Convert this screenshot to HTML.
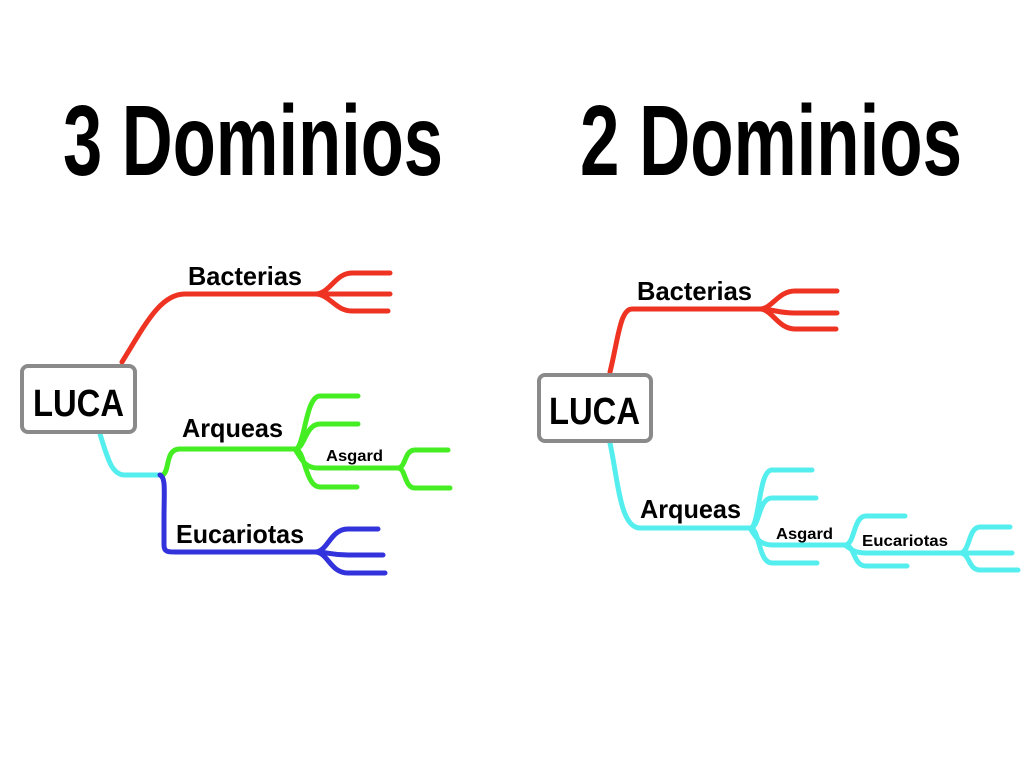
<!DOCTYPE html>
<html><head><meta charset="utf-8"><style>
html,body{margin:0;padding:0;background:#fff;width:1024px;height:768px;overflow:hidden}
svg{display:block}
text{font-family:"Liberation Sans",sans-serif;font-weight:bold;fill:#000}
</style></head><body>
<svg width="1024" height="768" viewBox="0 0 1024 768" xmlns="http://www.w3.org/2000/svg">
<rect width="1024" height="768" fill="#fff"/>
<text x="63" y="175" font-size="100" textLength="380" lengthAdjust="spacingAndGlyphs">3 Dominios</text>
<text x="580" y="175" font-size="100" textLength="382" lengthAdjust="spacingAndGlyphs">2 Dominios</text>

<g fill="none" stroke-width="5" stroke-linecap="round" stroke-linejoin="round">
<!-- LEFT -->
<path d="M122 362 C145 325 160 294 185 294 L315 294" stroke="#ee3322"/>
<path d="M315 294 C330 294 335 273 352 273 L390 273 M315 294 C330 294 335 294 352 294 L390 294 M315 294 C330 294 335 311 352 311 L388 311" stroke="#ee3322"/>
<path d="M100 434 C108 460 112 475 125 475 L162 475" stroke="#55eeee"/>
<path d="M163 475 C170 470 165 449 180 449 L295 449" stroke="#44ee22"/>
<path d="M295 449 C305 449 305 396 320 396 L358 396 M295 449 C305 449 305 424 320 424 L358 424 M295 449 C305 449 305 487 320 487 L357 487 M295 449 C302 460 305 468 318 468 L398 468" stroke="#44ee22"/>
<path d="M398 468 C406 468 404 450 415 450 L448 450 M398 468 C406 468 404 488 415 488 L450 488" stroke="#44ee22"/>
<path d="M160 475 C166 478 164 490 164 520 L164 545 C164 552 168 552 175 552 L315 552" stroke="#3333dd"/>
<path d="M315 552 C328 552 330 529 348 529 L378 529 M315 552 C328 552 330 555 348 555 L383 555 M315 552 C328 552 330 573 348 573 L385 573" stroke="#3333dd"/>
<!-- RIGHT -->
<path d="M610 372 C618 340 620 309 632 309 L760 309" stroke="#ee3322"/>
<path d="M760 309 C772 309 778 291 795 291 L837 291 M760 309 C772 309 778 313 795 313 L837 313 M760 309 C772 309 778 329 795 329 L836 329" stroke="#55eeee" style="stroke:#ee3322"/>
<path d="M610 443 C618 480 620 528 640 528 L750 528" stroke="#55eeee"/>
<path d="M750 528 C760 528 758 470 772 470 L812 470 M750 528 C760 528 758 498 772 498 L816 498 M750 528 C760 528 758 563 772 563 L817 563 M750 528 C756 538 760 545 772 545 L845 545" stroke="#55eeee"/>
<path d="M845 545 C855 545 853 516 866 516 L905 516 M845 545 C855 545 853 566 866 566 L907 566 M845 545 C852 550 855 553 866 553 L960 553" stroke="#55eeee"/>
<path d="M960 553 C970 553 968 527 980 527 L1010 527 M960 553 L1012 553 M960 553 C970 553 968 570 980 570 L1018 570" stroke="#55eeee"/>
</g>

<rect x="22" y="366" width="113" height="66" rx="6" fill="#fff" stroke="#8a8a8a" stroke-width="4"/>
<text x="33" y="416" font-size="38" textLength="91" lengthAdjust="spacingAndGlyphs">LUCA</text>
<rect x="539" y="375" width="112" height="66" rx="6" fill="#fff" stroke="#8a8a8a" stroke-width="4"/>
<text x="549" y="424" font-size="38" textLength="91" lengthAdjust="spacingAndGlyphs">LUCA</text>

<text x="188" y="285" font-size="26" textLength="114" lengthAdjust="spacingAndGlyphs">Bacterias</text>
<text x="182" y="437" font-size="26" textLength="101" lengthAdjust="spacingAndGlyphs">Arqueas</text>
<text x="176" y="543" font-size="26" textLength="128" lengthAdjust="spacingAndGlyphs">Eucariotas</text>
<text x="326" y="461" font-size="16" textLength="57" lengthAdjust="spacingAndGlyphs">Asgard</text>

<text x="637" y="300" font-size="26" textLength="115" lengthAdjust="spacingAndGlyphs">Bacterias</text>
<text x="640" y="518" font-size="26" textLength="101" lengthAdjust="spacingAndGlyphs">Arqueas</text>
<text x="776" y="539" font-size="16" textLength="57" lengthAdjust="spacingAndGlyphs">Asgard</text>
<text x="862" y="546" font-size="16" textLength="86" lengthAdjust="spacingAndGlyphs">Eucariotas</text>
</svg>
</body></html>
